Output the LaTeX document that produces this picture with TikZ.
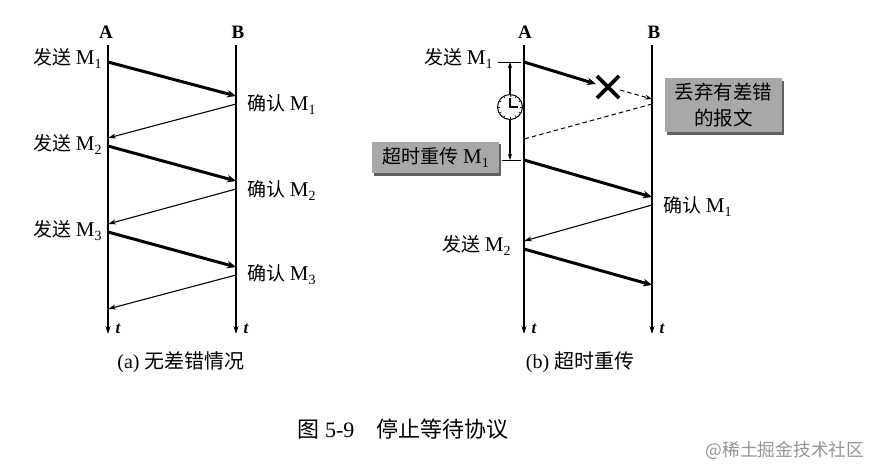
\documentclass[tikz,border=0pt]{standalone}
\usepackage{fontspec}
\setmainfont{Liberation Serif}
\newfontfamily\cjk{Noto Sans CJK SC}
\usetikzlibrary{arrows.meta,calc}
\newcommand{\zh}[1]{{\cjk #1}}
\newcommand{\Msub}[1]{{\fontsize{21}{21}\selectfont M}\raisebox{-4pt}{\fontsize{14}{14}\selectfont #1}}
\tikzset{
  lab/.style={inner sep=0pt,font=\fontsize{19}{21}\selectfont,text=black},
  head/.style={inner sep=0pt,font=\fontsize{19}{21}\selectfont\bfseries},
  tlab/.style={inner sep=0pt,font=\fontsize{17}{19}\selectfont\itshape\bfseries},
  life/.style={line width=1.3pt,-{Stealth[length=8pt,width=5pt]}},
  data/.style={line width=3pt,-{Stealth[length=9pt,width=7.5pt]}},
  ack/.style={line width=1.1pt,-{Stealth[length=8pt,width=5pt]}},
  timer/.style={line width=1.1pt,-{Stealth[length=6pt,width=4pt]}},
  lost/.style={line width=1pt,dash pattern=on 4.5pt off 3pt},
  greybox/.style={fill=black!34,inner sep=0pt},
  shade/.style={fill=black!62,draw=none},
  tick/.style={line width=1pt}
}
\begin{document}
\begin{tikzpicture}[x=1pt,y=-1pt]
\useasboundingbox (0,0) rectangle (872,467);
% ---------- (a)
\node[head] (A1) at (106,32) {A};
\node[head] (B1) at (238,32) {B};
\coordinate (A1t) at (108,45); \coordinate (A1b) at (108,334);
\coordinate (B1t) at (236,45); \coordinate (B1b) at (236,334);
\draw[life] (A1t) -- (A1b);
\draw[life] (B1t) -- (B1b);
\foreach \n/\y in {a/62,b/138,c/146,d/224,e/232,f/309}{\coordinate (L\n) at (108,\y);}
\foreach \n/\y in {a/96,b/104,c/181,d/189,e/267,f/275}{\coordinate (R\n) at (236,\y);}
\draw[data] (La) -- (Ra);
\draw[ack] (Rb) -- (Lb);
\draw[data] (Lc) -- (Rc);
\draw[ack] (Rd) -- (Ld);
\draw[data] (Le) -- (Re);
\draw[ack] (Rf) -- (Lf);
\node[lab,anchor=west] (s1) at (33,58) {\zh{发送} \Msub{1}};
\node[lab,anchor=west] (s2) at (33,144) {\zh{发送} \Msub{2}};
\node[lab,anchor=west] (s3) at (33,231) {\zh{发送} \Msub{3}};
\node[lab,anchor=west] (c1) at (247,104) {\zh{确认} \Msub{1}};
\node[lab,anchor=west] (c2) at (247,190) {\zh{确认} \Msub{2}};
\node[lab,anchor=west] (c3) at (247,275) {\zh{确认} \Msub{3}};
\node[tlab] (t1) at (118,329) {t};
\node[tlab] (t2) at (246,329) {t};
\node[lab,font=\fontsize{20}{22}\selectfont] (capa) at (181,362) {(a) \zh{无差错情况}};
% ---------- (b)
\node[head] (A2) at (525,32) {A};
\node[head] (B2) at (654,32) {B};
\coordinate (A2t) at (524,45); \coordinate (A2b) at (524,334);
\coordinate (B2t) at (652,45); \coordinate (B2b) at (652,334);
\draw[life] (A2t) -- (A2b);
\draw[life] (B2t) -- (B2b);
\coordinate (p1) at (524,62);
\coordinate (p2) at (596,84);
\coordinate (x) at (608,87);
\coordinate (p3) at (620,90);
\coordinate (p4) at (652,99);
\coordinate (p5) at (652,104);
\coordinate (p6) at (524,139);
\coordinate (p7) at (524,160);
\coordinate (p8) at (652,197);
\coordinate (p9) at (652,205);
\coordinate (p10) at (524,241);
\coordinate (p11) at (524,249);
\coordinate (p12) at (652,285);
\draw[data] (p1) -- (p2);
\draw[line width=3.6pt] ($(x)+(-11,-11)$) -- ($(x)+(11,11)$);
\draw[line width=3.6pt] ($(x)+(11,-11)$) -- ($(x)+(-11,11)$);
\draw[lost,-{Stealth[length=7pt,width=5pt]}] (p3) -- (p4);
\draw[lost] (p5) -- (p6);
\draw[data] (p7) -- (p8);
\draw[ack] (p9) -- (p10);
\draw[data] (p11) -- (p12);
\node[lab,anchor=west] (s4) at (424,58) {\zh{发送} \Msub{1}};
\node[lab,anchor=west] (c4) at (663,206) {\zh{确认} \Msub{1}};
\node[lab,anchor=west] (s5) at (442,245) {\zh{发送} \Msub{2}};
% timer
\coordinate (t0a) at (498,62); \coordinate (t0b) at (521,62);
\coordinate (t1a) at (502,160); \coordinate (t1b) at (521,160);
\draw[tick] (t0a) -- (t0b);
\draw[tick] (t1a) -- (t1b);
\coordinate (clk) at (510,107);
\draw[timer] (510,94) -- (510,62);
\draw[timer] (510,120) -- (510,160);
\draw[line width=1pt,fill=white] (clk) circle (12.5);
\foreach \a in {0,30,...,330}{\draw[line width=.6pt] ($(clk)+(\a:10)$) -- ($(clk)+(\a:11.8)$);}
\draw[line width=1.4pt] (510,98) -- (clk) -- (518,107);
% grey boxes
\fill[shade] (667,81) rectangle (784,135);
\node[greybox,minimum width=117pt,minimum height=54pt,anchor=north west,align=center,font=\fontsize{19.5}{26}\selectfont\cjk] (drop) at (665,78) {丢弃有差错\\的报文};
\fill[shade] (374,144) rectangle (501,176);
\node[greybox,minimum width=127pt,minimum height=31pt,anchor=north west,font=\fontsize{19}{21}\selectfont] (retx) at (372,142) {\zh{超时重传} \Msub{1}};
\node[tlab] (t3) at (534,329) {t};
\node[tlab] (t4) at (662,329) {t};
\node[lab,font=\fontsize{20}{22}\selectfont] (capb) at (580,362) {(b) \zh{超时重传}};
% caption
\node[lab,font=\fontsize{22}{24}\selectfont] (cap) at (403,429) {\zh{图} 5-9\hspace{1em}\zh{停止等待协议}};
\node[inner sep=0pt,text=black!42,font=\fontsize{17.7}{19}\selectfont\cjk] (wm) at (785,451) {@稀土掘金技术社区};
\end{tikzpicture}
\end{document}
